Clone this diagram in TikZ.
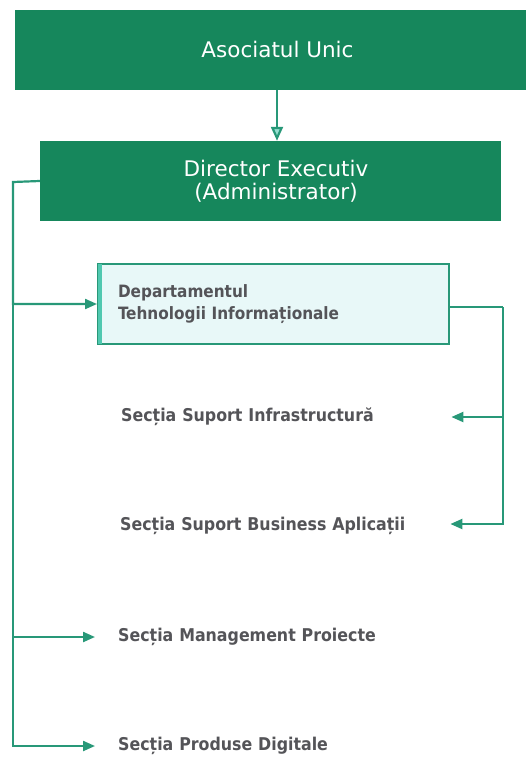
\documentclass[tikz,border=0pt]{standalone}
\usepackage{fontspec}
\setmainfont{DejaVu Sans}
\newfontfamily\condensat{DejaVu Sans Condensed}
\usetikzlibrary{positioning, arrows.meta}

\definecolor{verde}{RGB}{22,135,92}
\definecolor{linie}{RGB}{40,152,120}
\definecolor{turcoaz}{RGB}{232,248,248}
\definecolor{dunga}{RGB}{80,200,176}
\definecolor{gri}{RGB}{84,84,88}

\begin{document}
\begin{tikzpicture}[
    x=1pt, y=-1pt,
    cutie/.style = {fill=verde, text=white, minimum height=80pt, align=center, inner sep=0pt},
    sectie/.style = {anchor=west, text=gri, font=\condensat\bfseries\fontsize{17.6}{20}\selectfont, inner sep=0pt, text width=330pt, align=left},
    legatura/.style = {draw=linie, line width=2.2pt},
    sageata/.style = {legatura, -{Triangle[length=12pt, width=10pt]}}
]
    \useasboundingbox (0,0) rectangle (525,758);

    \node (asoc) [cutie, minimum width=525pt, font=\fontsize{21.5}{24}\selectfont] at (277.5,49.5) {Asociatul Unic};
    \node (dir) [cutie, minimum width=461pt, font=\fontsize{21.5}{23}\selectfont] at (270.5,181) {\hspace*{11pt}Director Executiv\\\hspace*{11pt}(Administrator)};
    \node (dti) [draw=linie, line width=2pt, fill=turcoaz, minimum height=80pt, text width=311pt, inner xsep=20pt, align=left,
        text=gri, font=\condensat\bfseries\fontsize{17}{22}\selectfont] at (273.5,304) {Departamentul\\Tehnologii Informaționale};
    \fill[dunga] (dti.north west) ++(1,1) rectangle ([shift={(5,-1)}]dti.south west);

    \node (infra) [sectie] at (121,417) {Secția Suport Infrastructură};
    \node (business) [sectie] at (120,526) {Secția Suport Business Aplicații};
    \node (proiecte) [sectie] at (118,637) {Secția Management Proiecte};
    \node (digitale) [sectie] at (118,746) {Secția Produse Digitale};

    \coordinate (stanga) at (13,182);
    \coordinate (dreapta) at (503,307);
    \coordinate (mijloc) at (277,0);

    \draw[legatura, -{Triangle[open, fill=dunga!60, length=14pt, width=12pt]}] (asoc.south -| mijloc) -- (dir.north -| mijloc);

    % ramura din stanga
    \draw[sageata] (dir.west) -- (stanga) |- (dti.west);
    \draw[sageata, shorten >=23pt] (stanga) |- (proiecte.west);
    \draw[sageata, shorten >=23pt] (stanga) |- (digitale.west);

    % ramura din dreapta
    \draw[legatura] (dti.east |- dreapta) -- (dreapta);
    \draw[sageata] (dreapta) |- (infra.east);
    \draw[sageata] (dreapta) |- ([yshift=2pt]business.east);
\end{tikzpicture}
\end{document}
